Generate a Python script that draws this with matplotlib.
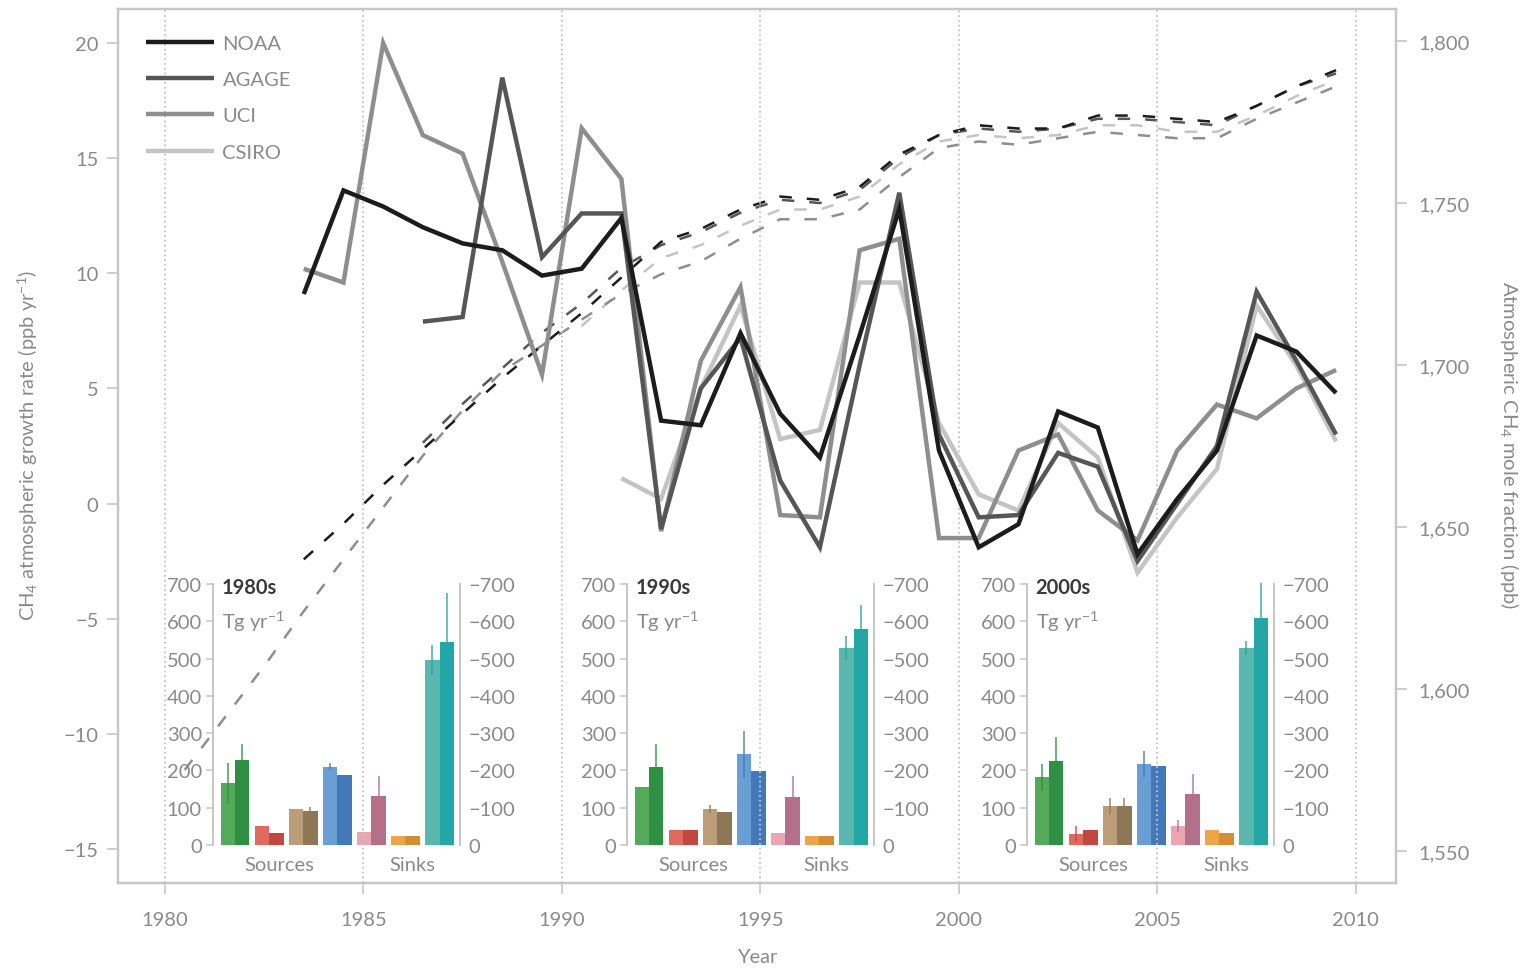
import matplotlib
matplotlib.use("Agg")
import matplotlib.pyplot as plt
import numpy as np
from matplotlib.ticker import FuncFormatter

plt.rcParams['font.family'] = ['Lato', 'DejaVu Sans']
plt.rcParams['mathtext.fontset'] = 'custom'
plt.rcParams['mathtext.rm'] = 'Lato'
plt.rcParams['mathtext.it'] = 'Lato:italic'
plt.rcParams['mathtext.bf'] = 'Lato:bold'

## growth rates (ppb/yr), annual means plotted at mid-year
noaa_start, agage_start, uci_start, csiro_start = 1983.5, 1986.5, 1983.5, 1991.5
noaa_gr = [9.1, 13.6, 12.9, 12.0, 11.3, 11.0, 9.9, 10.2, 12.4, 3.6, 3.4, 7.4, 3.9, 2.0, 7.3, 12.8,
           2.3, -1.9, -0.9, 4.0, 3.3, -2.2, 0.2, 2.3, 7.3, 6.6, 4.8]
agage_gr = [7.9, 8.1, 18.5, 10.7, 12.6, 12.6, -1.1, 5.0, 7.2, 1.0, -1.9, 6.0, 13.5,
            3.0, -0.6, -0.5, 2.2, 1.6, -2.5, 0.0, 2.5, 9.2, 6.2, 3.0]
uci_gr = [10.2, 9.6, 20.0, 16.0, 15.2, 10.5, 5.6, 16.3, 14.1, -1.2, 6.2, 9.4, -0.5, -0.6, 11.0,
          11.5, -1.5, -1.5, 2.3, 3.0, -0.3, -1.6, 2.3, 4.3, 3.7, 5.0, 5.8]
csiro_gr = [1.1, 0.2, 5.0, 8.6, 2.8, 3.2, 9.6, 9.6, 3.5, 0.4, -0.3, 3.5, 2.0, -3.0, -0.6,
            1.5, 8.6, 6.0, 2.7]

## mole fractions (ppb), annual means
noaa_mf_start, agage_mf_start, uci_mf_start, csiro_mf_start = 1983.5, 1986.5, 1980.5, 1990.5
noaa_mf = [1640, 1651, 1663, 1674, 1685, 1696, 1706, 1716, 1727, 1738, 1742, 1748, 1752, 1751,
           1755, 1765, 1771, 1774, 1773, 1773, 1777, 1777, 1776, 1775, 1780, 1786, 1791]
agage_mf = [1676, 1688, 1699, 1710, 1719, 1730, 1737, 1741, 1747, 1751, 1750, 1754, 1764, 1771,
            1773, 1772, 1773, 1776, 1776, 1775, 1774, 1780, 1786, 1790]
uci_mf = [1575, 1591, 1607, 1624, 1640, 1656, 1672, 1686, 1698, 1706, 1714, 1722, 1728, 1732,
          1739, 1745, 1745, 1748, 1758, 1767, 1769, 1768, 1770, 1772, 1771, 1770, 1770, 1776,
          1781, 1786]
csiro_mf = [1712, 1723, 1733, 1737, 1743, 1748, 1748, 1752, 1762, 1769, 1771, 1770, 1771, 1774,
            1774, 1772, 1772, 1777, 1783, 1788]

## decadal budgets (Tg/yr): 4 source + 3 sink categories, top-down (light) / bottom-up (dark)
decades = ["1980s", "1990s", "2000s"]
td_1980s = [167, 52, 97, 210, 36, 24, 497]
bu_1980s = [228, 33, 92, 188, 131, 24, 544]
td_err_1980s = [54, 0, 0, 9, 0, 0, 40]
bu_err_1980s = [43, 0, 10, 0, 54, 0, 133]
td_1990s = [155, 41, 97, 244, 32, 24, 528]
bu_1990s = [209, 41, 88, 199, 130, 23, 578]
td_err_1990s = [0, 0, 10, 63, 0, 0, 32]
bu_err_1990s = [62, 0, 0, 0, 55, 0, 65]
td_2000s = [182, 29, 104, 218, 52, 41, 528]
bu_2000s = [226, 41, 104, 212, 137, 32, 610]
td_err_2000s = [35, 21, 22, 35, 16, 0, 18]
bu_err_2000s = [63, 0, 22, 0, 53, 0, 94]

light_cols = ["#55a95a", "#df6a5f", "#bb9d7a", "#6a9fd6", "#eaa7b2", "#eea54a", "#58b8ae"]
dark_cols = ["#2f8f42", "#c4473f", "#8d7757", "#4379b8", "#b46f8a", "#d48d35", "#22a6a6"]

series = [
    ("NOAA", "#1c1c1c", noaa_start, noaa_gr, noaa_mf_start, noaa_mf),
    ("AGAGE", "#565656", agage_start, agage_gr, agage_mf_start, agage_mf),
    ("UCI", "#8e8e8e", uci_start, uci_gr, uci_mf_start, uci_mf),
    ("CSIRO", "#c4c4c4", csiro_start, csiro_gr, csiro_mf_start, csiro_mf),
]

txt_col = "#8a8a8a"
frame_col = "#c6c6c6"

fig = plt.figure(figsize=(15.26, 9.70), dpi=100)
ax = fig.add_axes([0.0773, 0.0887, 0.8375, 0.901])
ax2 = ax.twinx()
ax.set_zorder(ax2.get_zorder() + 1)
ax.patch.set_visible(False)

handles = {}
for name, col, s0, gr, m0, mf in reversed(series):
    x_gr = s0 + np.arange(len(gr))
    x_mf = m0 + np.arange(len(mf))
    h, = ax.plot(x_gr, gr, color=col, lw=3.2, solid_joinstyle='miter', solid_capstyle='butt')
    ax2.plot(x_mf, mf, color=col, lw=1.8, ls=(0, (5, 6)))
    handles[name] = h

ax.set_xlim(1978.82, 2011.01)
ax.set_ylim(-16.48, 21.48)
ax2.set_ylim(1540.1, 1809.9)
ax.set_xticks(np.arange(1980, 2011, 5))
ax.set_yticks(np.arange(-15, 21, 5))
ax2.set_yticks(np.arange(1550, 1801, 50))
ax2.yaxis.set_major_formatter(FuncFormatter(lambda v, p: f"{int(v):,}"))
ax.grid(axis='x', ls=':', color='#c4c4c4', lw=1.3)

for a in (ax, ax2):
    for sp in a.spines.values():
        sp.set_color(frame_col)
        sp.set_linewidth(1.6)
ax.tick_params(axis='both', direction='out', length=8, width=1.2, color=frame_col,
               labelcolor=txt_col, labelsize=14.5)
ax.tick_params(axis='x', pad=12)
ax.tick_params(axis='y', pad=6)
ax2.tick_params(axis='y', direction='out', length=8, width=1.2, color=frame_col,
                labelcolor=txt_col, labelsize=14.5, pad=8)

leg = ax.legend([handles[n] for n in ["NOAA", "AGAGE", "UCI", "CSIRO"]],
                ["NOAA", "AGAGE", "UCI", "CSIRO"], loc='upper left',
                bbox_to_anchor=(0.014, 0.982), frameon=False, fontsize=14.5,
                handlelength=3.4, labelspacing=0.95, borderpad=0, handletextpad=0.4)
for t in leg.get_texts():
    t.set_color(txt_col)

fig.text(0.0183, 0.541, "CH$_4$ atmospheric growth rate (ppb yr$^{-1}$)", rotation=90,
         ha='center', va='center', fontsize=14.5, color=txt_col)
fig.text(0.9895, 0.541, "Atmospheric CH$_4$ mole fraction (ppb)", rotation=270,
         ha='center', va='center', fontsize=14.5, color=txt_col)
fig.text(0.496, 0.0124, "Year", ha='center', va='center', fontsize=14.5, color=txt_col)

## decadal inset bar charts
inset_lefts = [213, 627, 1027]
budgets = [
    (td_1980s, bu_1980s, td_err_1980s, bu_err_1980s),
    (td_1990s, bu_1990s, td_err_1990s, bu_err_1990s),
    (td_2000s, bu_2000s, td_err_2000s, bu_err_2000s),
]
W, H = 1526.0, 970.0
idx = np.arange(7)
bw = 0.42
for left, dec, (td, bu, td_e, bu_e) in zip(inset_lefts, decades, budgets):
    iax = fig.add_axes([left / W, 1 - 846 / H, 247 / W, 261 / H])
    iax.patch.set_visible(False)
    iax.bar(idx - bw / 2, td, width=bw, color=light_cols, lw=0)
    iax.bar(idx + bw / 2, bu, width=bw, color=dark_cols, lw=0)
    for i in idx:
        if td_e[i] > 0:
            iax.vlines(i - bw / 2, td[i] - td_e[i], td[i] + td_e[i], color=dark_cols[i],
                       lw=1.3, alpha=0.75, clip_on=False)
        if bu_e[i] > 0:
            iax.vlines(i + bw / 2, bu[i] - bu_e[i], bu[i] + bu_e[i], color=dark_cols[i],
                       lw=1.3, alpha=0.75, clip_on=False)
    iax.set_xlim(-0.65, 6.6)
    iax.set_ylim(0, 700)
    iax.set_xticks([])
    iax.set_yticks(np.arange(0, 701, 100))
    for s in ('top', 'bottom'):
        iax.spines[s].set_visible(False)
    for s in ('left', 'right'):
        iax.spines[s].set_color(frame_col)
        iax.spines[s].set_linewidth(1.4)
    iax.tick_params(axis='y', which='both', direction='out', length=5, width=1.1,
                    color=frame_col, labelcolor=txt_col, labelsize=14.5, pad=3,
                    left=True, right=True, labelleft=True, labelright=False)
    rax = iax.twinx()
    rax.set_ylim(0, 700)
    rax.set_yticks(np.arange(0, 701, 100))
    rax.set_yticklabels(["0"] + [f"\u2212{v}" for v in range(100, 701, 100)])
    for sp in rax.spines.values():
        sp.set_visible(False)
    rax.tick_params(axis='y', length=0, labelcolor=txt_col, labelsize=14.5, pad=6)
    iax.text(0.035, 0.99, dec, transform=iax.transAxes, ha='left', va='center',
             fontsize=14.5, fontweight='bold', color='#3a3a3a')
    iax.text(0.035, 0.86, "Tg yr$^{-1}$", transform=iax.transAxes, ha='left', va='center',
             fontsize=14.5, color=txt_col)
    iax.text(1.3, -0.075, "Sources", transform=iax.get_xaxis_transform(), ha='center',
             va='center', fontsize=14.5, color=txt_col)
    iax.text(5.19, -0.075, "Sinks", transform=iax.get_xaxis_transform(), ha='center',
             va='center', fontsize=14.5, color=txt_col)

fig.savefig("out.png", dpi=100)
